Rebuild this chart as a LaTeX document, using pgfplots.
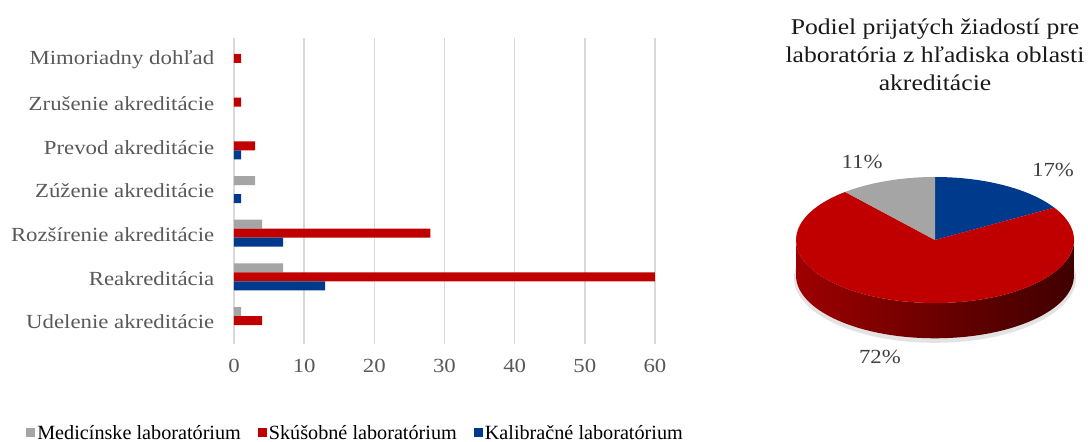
\documentclass[border=0pt]{standalone}
\usepackage{pgfplots}
\pgfplotsset{compat=1.18}
\usepackage{fontspec}
\setmainfont{Liberation Serif}[FakeStretch=1.14]
\newfontfamily\legfont{Liberation Serif}
\definecolor{cgray}{HTML}{A5A5A5}
\definecolor{cred}{HTML}{C00000}
\definecolor{cblue}{HTML}{003A8C}
\definecolor{ctext}{HTML}{595959}
\definecolor{cgrid}{HTML}{D9D9D9}
\begin{document}
\begin{tikzpicture}[x=1pt,y=1pt]
\path[use as bounding box] (0,0) rectangle (1088,442);
\begin{axis}[
  at={(234pt,98pt)}, anchor=south west,
  width=421pt, height=306pt, scale only axis,
  xbar, bar width=9pt,
  xmin=0, xmax=60, ymin=-0.5, ymax=6.5,
  xtick={0,10,...,60},
  ytick={0,...,6},
  yticklabels={Udelenie akreditácie, Reakreditácia, Rozšírenie akreditácie, Zúženie akreditácie, Prevod akreditácie, Zrušenie akreditácie, Mimoriadny dohľad},
  axis line style={draw=none},
  tick style={draw=none},
  xmajorgrids, major grid style={draw=cgrid, line width=1.5pt},
  /pgf/number format/assume math mode=true,
  ticklabel style={font=\fontsize{20}{24}\selectfont, text=ctext},
  xticklabel style={yshift=-12pt},
  yticklabel style={xshift=-12pt},
  legend style={at={(-0.501,-0.2908)}, anchor=west, draw=none, fill=none,
    legend columns=3, font=\legfont\fontsize{20.2}{22}\selectfont,
    /tikz/every even column/.append style={column sep=15pt},
    legend cell align=left},
  legend image code/.code={\fill[#1] (0pt,-4.5pt) rectangle (9pt,4.5pt);},
]
\addplot[fill=cgray, draw=none, bar shift=10.5pt] coordinates {(1,0) (7,1) (4,2) (3,3)};
\addplot[fill=cred, draw=none, bar shift=1.5pt] coordinates {(4,0) (60,1) (28,2) (3,4) (1,5) (1,6)};
\addplot[fill=cblue, draw=none, bar shift=-7.5pt] coordinates {(13,1) (7,2) (1,3) (1,4)};
\legend{Medicínske laboratórium, Skúšobné laboratórium, Kalibračné laboratórium}
\end{axis}

% pie
\def\vgray{15}\def\vred{97}\def\vblue{22}
\pgfmathsetmacro{\tot}{\vgray+\vred+\vblue}
\pgfmathsetmacro{\ablue}{90-360*\vblue/\tot}
\pgfmathsetmacro{\agray}{90+360*\vgray/\tot}
\pgfmathsetmacro{\agrayb}{\agray-360}
\pgfmathsetmacro{\cbx}{cos(\ablue)}
\pgfmathsetmacro{\cby}{sin(\ablue)}
\begin{axis}[
  at={(935pt,202pt)}, anchor=center,
  width=278pt, height=126pt, scale only axis,
  xmin=-1, xmax=1, ymin=-1, ymax=1, hide axis, clip=false,
]
\fill[black!18, opacity=0.6] (axis cs:0,-0.6) ellipse[x radius=141pt, y radius=65pt];
\shade[left color=red!62!black, right color=red!25!black, middle color=red!42!black]
  (axis cs:-1,0) -- (axis cs:-1,-0.56) arc[start angle=180, end angle=360, x radius=139pt, y radius=63pt]
  -- (axis cs:1,0) arc[start angle=360, end angle=180, x radius=139pt, y radius=63pt] -- cycle;
\fill[cblue] (axis cs:0,0) -- (axis cs:0,1) arc[start angle=90, end angle=\ablue, x radius=139pt, y radius=63pt] -- cycle;
\fill[cred] (axis cs:0,0) -- (axis cs:\cbx,\cby) arc[start angle=\ablue, end angle=\agrayb, x radius=139pt, y radius=63pt] -- cycle;
\fill[cgray] (axis cs:0,0) -- (axis cs:0,1) arc[start angle=90, end angle=\agray, x radius=139pt, y radius=63pt] -- cycle;
\node[font=\fontsize{20}{24}\selectfont, text=black!75] at (axis cs:0.849,1.11) {17\%};
\node[font=\fontsize{20}{24}\selectfont, text=black!75] at (axis cs:-0.525,1.238) {11\%};
\node[font=\fontsize{20}{24}\selectfont, text=black!75] at (axis cs:-0.396,-1.857) {72\%};
\end{axis}
\node[align=center, font=\fontsize{22.5}{28}\selectfont, text=black!90] at (935,387)
  {Podiel prijatých žiadostí pre\\laboratória z hľadiska oblasti\\akreditácie};
\end{tikzpicture}
\end{document}
